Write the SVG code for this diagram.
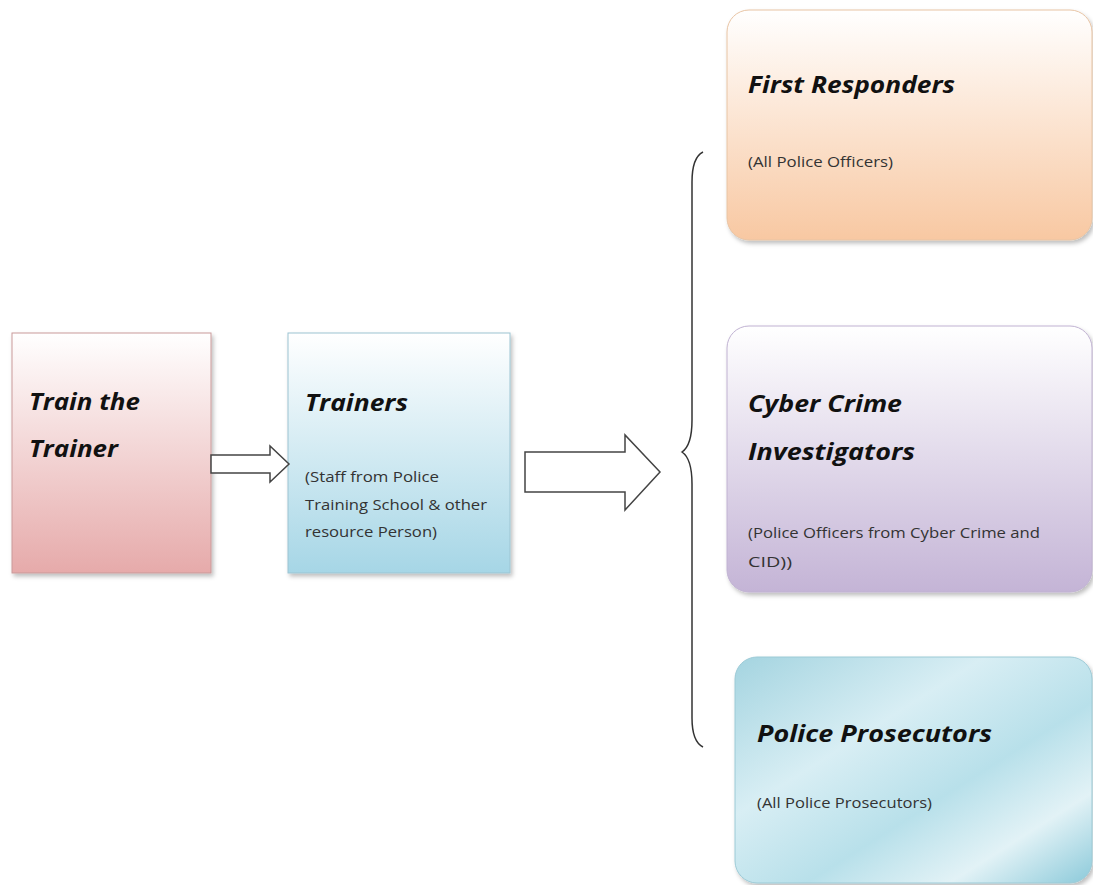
<svg xmlns="http://www.w3.org/2000/svg" width="1093" height="885" viewBox="0 0 1093 885">
  <style>
    .title { font-family: "Open Sans", "Liberation Sans", sans-serif; font-weight: bold; font-style: italic; font-size: 23px; fill: #111; }
    .sub { font-family: "Open Sans", "Liberation Sans", sans-serif; font-size: 14.5px; fill: #333; }
    .arrow { fill: #ffffff; stroke: #444; stroke-width: 1.5; stroke-linejoin: miter; }
    .brace { fill: none; stroke: #333; stroke-width: 1.5; }
  </style>
  <defs>
    <linearGradient id="gPink" x1="0" y1="0" x2="0" y2="1">
      <stop offset="0" stop-color="#ffffff"/>
      <stop offset="1" stop-color="#e6aaaa"/>
    </linearGradient>
    <linearGradient id="gBlue" x1="0" y1="0" x2="0" y2="1">
      <stop offset="0" stop-color="#ffffff"/>
      <stop offset="1" stop-color="#a6d6e6"/>
    </linearGradient>
    <linearGradient id="gPeach" x1="0" y1="0" x2="0" y2="1">
      <stop offset="0" stop-color="#ffffff"/>
      <stop offset="1" stop-color="#f8c8a2"/>
    </linearGradient>
    <linearGradient id="gLav" x1="0" y1="0" x2="0" y2="1">
      <stop offset="0" stop-color="#ffffff"/>
      <stop offset="1" stop-color="#c4b4d6"/>
    </linearGradient>
    <linearGradient id="gTeal" x1="0" y1="0" x2="1" y2="1">
      <stop offset="0" stop-color="#a4d4e0"/>
      <stop offset="0.35" stop-color="#d8eef4"/>
      <stop offset="0.6" stop-color="#b8e0ea"/>
      <stop offset="0.8" stop-color="#e2f2f6"/>
      <stop offset="1" stop-color="#8ccada"/>
    </linearGradient>
    <filter id="shadow" x="-10%" y="-10%" width="125%" height="125%">
      <feDropShadow dx="2" dy="3" stdDeviation="2" flood-color="#000" flood-opacity="0.25"/>
    </filter>
  </defs>

  <rect width="1093" height="885" fill="#ffffff"/>

  <!-- Train the Trainer -->
  <g id="train-the-trainer">
    <rect x="12" y="333" width="199" height="240" fill="url(#gPink)" stroke="#c99a9a" stroke-width="1" filter="url(#shadow)"/>
    <text class="title" x="29" y="410" textLength="111" lengthAdjust="spacingAndGlyphs">Train the</text>
    <text class="title" x="29" y="457" textLength="89" lengthAdjust="spacingAndGlyphs">Trainer</text>
  </g>

  <!-- Trainers -->
  <g id="trainers">
    <rect x="288" y="333" width="222" height="240" fill="url(#gBlue)" stroke="#9cc4d2" stroke-width="1" filter="url(#shadow)"/>
    <text class="title" x="305" y="411" textLength="103" lengthAdjust="spacingAndGlyphs">Trainers</text>
    <text class="sub" x="305" y="482" textLength="134" lengthAdjust="spacingAndGlyphs">(Staff from Police</text>
    <text class="sub" x="305" y="510" textLength="182" lengthAdjust="spacingAndGlyphs">Training School &amp; other</text>
    <text class="sub" x="305" y="537" textLength="132" lengthAdjust="spacingAndGlyphs">resource Person)</text>
  </g>

  <!-- First Responders -->
  <g id="first-responders">
    <rect x="727" y="10" width="365" height="230" rx="22" fill="url(#gPeach)" stroke="#e8c4a4" stroke-width="1" filter="url(#shadow)"/>
    <text class="title" x="748" y="93" textLength="207" lengthAdjust="spacingAndGlyphs">First Responders</text>
    <text class="sub" x="748" y="167" textLength="145" lengthAdjust="spacingAndGlyphs">(All Police Officers)</text>
  </g>

  <!-- Cyber Crime Investigators -->
  <g id="cyber-crime-investigators">
    <rect x="727" y="326" width="365" height="266" rx="22" fill="url(#gLav)" stroke="#c0b2d2" stroke-width="1" filter="url(#shadow)"/>
    <text class="title" x="748" y="412" textLength="154" lengthAdjust="spacingAndGlyphs">Cyber Crime</text>
    <text class="title" x="748" y="460" textLength="167" lengthAdjust="spacingAndGlyphs">Investigators</text>
    <text class="sub" x="748" y="538" textLength="292" lengthAdjust="spacingAndGlyphs">(Police Officers from Cyber Crime and</text>
    <text class="sub" x="748" y="567" textLength="44" lengthAdjust="spacingAndGlyphs">CID))</text>
  </g>

  <!-- Police Prosecutors -->
  <g id="police-prosecutors">
    <rect x="735" y="657" width="357" height="226" rx="22" fill="url(#gTeal)" stroke="#9ccad6" stroke-width="1" filter="url(#shadow)"/>
    <text class="title" x="757" y="742" textLength="235" lengthAdjust="spacingAndGlyphs">Police Prosecutors</text>
    <text class="sub" x="757" y="808" textLength="175" lengthAdjust="spacingAndGlyphs">(All Police Prosecutors)</text>
  </g>

  <!-- Connectors -->
  <g id="connectors">
    <path class="arrow" d="M211,455 L270,455 L270,446 L289,464 L270,482 L270,473 L211,473 Z"/>
    <path class="arrow" d="M525,452 L625,452 L625,435 L660,472 L625,510 L625,492 L525,492 Z"/>
    <path class="brace" d="M703,152 C695,156 692,166 692,182 L692,420 C692,440 688,448 682,452 C688,456 692,464 692,484 L692,718 C692,734 695,743 703,747"/>
  </g>
</svg>
